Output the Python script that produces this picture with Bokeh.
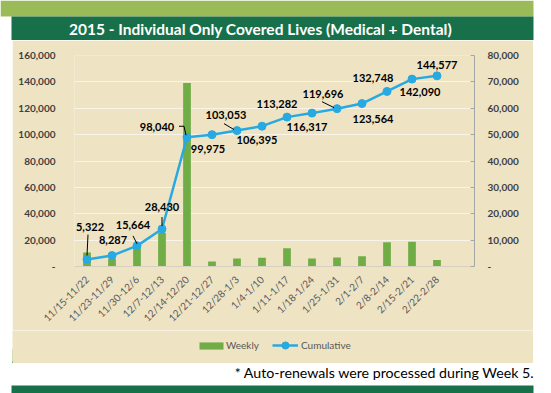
from bokeh.plotting import figure
from bokeh.layouts import column, row
from bokeh.models import (Range1d, LinearAxis, FixedTicker, NumeralTickFormatter, Legend,
                          LegendItem, ColumnDataSource, Spacer)
from bokeh.core.properties import value
from bokeh.embed import file_html
from bokeh.resources import INLINE

# ---------------- data ----------------
weeks = ["11/15-11/22", "11/23-11/29", "11/30-12/6", "12/7-12/13", "12/14-12/20",
         "12/21-12/27", "12/28-1/3", "1/4-1/10", "1/11-1/17", "1/18-1/24",
         "1/25-1/31", "2/1-2/7", "2/8-2/14", "2/15-2/21", "2/22-2/28"]
weekly = [5322, 2965, 7377, 12766, 69610, 1935, 3078, 3342, 6887, 3035,
          3379, 3868, 9184, 9342, 2487]
cumulative = [5322, 8287, 15664, 28430, 98040, 99975, 103053, 106395, 113282, 116317,
              119696, 123564, 132748, 142090, 144577]
left_ticks = [0, 20000, 40000, 60000, 80000, 100000, 120000, 140000, 160000]
right_ticks = [0, 10000, 20000, 30000, 40000, 50000, 60000, 70000, 80000]

title_text = "2015 - Individual Only Covered Lives (Medical + Dental)"
footnote_text = "* Auto-renewals were processed during Week 5."

# ---------------- styles ----------------
TOTAL_W = 551
LIGHT_GREEN = "#9BBB59"
DARK_GREEN = "#18704A"
BEIGE = "#EEE3C3"
BAR_GREEN = "#70AD47"
BLUE = "#27A9E1"
FONT = "Lato"

# main chart figure geometry (beige panel)
W, H = 521, 290
BL, BR, BT, BB = 62, 59, 15, 63
FRAME_W, FRAME_H = W - BL - BR, H - BT - BB
LEG_H = 33

# label offsets (px) relative to each point
label_dx = [3, 1, -4, 0, -30, -4, -11, -5, -10, -5, -14, 11, -14, 8, 0]
label_dy = [-32, -16, -21, -22, -10, 14, -16, 14, -13, 14, -15, 15, -13, 13, -11]
leaders = {0: [(1, -25), (0, -4)], 2: [(-4, -10), (0, -2)], 3: [(0, -12), (0, -3)],
           4: [(-8, -11), (-3, -11), (-1, -2)], 6: [(-13, -7), (-3, -1)],
           10: [(-15, -7), (-3, -1)]}


def deco_fig(w, h, y_top, y_bottom, fill="white"):
    f = figure(width=w, height=h, output_backend="svg", toolbar_location=None,
               x_range=Range1d(0, w), y_range=Range1d(y_bottom, y_top),
               x_axis_location=None, y_axis_location=None, min_border=0,
               border_fill_color=fill, background_fill_color=fill,
               outline_line_color=None)
    f.grid.visible = False
    return f


# ---------------- header ----------------
head = deco_fig(TOTAL_W, 40, 0, 40)
head.quad(left=[0, 11], right=[533, 533], top=[0, 16], bottom=[16, 40],
          fill_color=[LIGHT_GREEN, DARK_GREEN], line_color=None)
head.text(x=[260], y=[28.5], text=[title_text], text_font=value(FONT),
          text_font_style="bold", text_font_size="15.5px", text_color="white",
          text_align="center", text_baseline="middle")

# ---------------- main chart ----------------
xpos = list(range(len(weeks)))
x_lo, x_hi = -0.5, 15.5
y_hi = left_ticks[-1]

p = figure(width=W, height=H, output_backend="svg", toolbar_location=None,
           x_range=Range1d(x_lo, x_hi), y_range=Range1d(0, y_hi),
           min_border_left=BL, min_border_right=BR, min_border_top=BT, min_border_bottom=BB,
           border_fill_color=BEIGE, background_fill_color=BEIGE, outline_line_color=None)
p.extra_y_ranges = {"weekly": Range1d(0, right_ticks[-1])}

p.xgrid.grid_line_color = None
p.ygrid.grid_line_color = "#F8F4EA"
p.ygrid.grid_line_width = 1
p.ygrid.ticker = FixedTicker(ticks=left_ticks)

ya = p.yaxis[0]
ya.ticker = FixedTicker(ticks=left_ticks)
ya.formatter = NumeralTickFormatter(format="0,0")
ya.major_label_overrides = {0: "-"}
ya.axis_line_color = None
ya.major_tick_line_color = None
ya.minor_tick_line_color = None
ya.major_label_standoff = 13
ya.major_label_text_font = FONT
ya.major_label_text_font_style = "bold"
ya.major_label_text_font_size = "10px"
ya.major_label_text_color = "#404040"

ra = LinearAxis(y_range_name="weekly", ticker=FixedTicker(ticks=right_ticks),
                formatter=NumeralTickFormatter(format="0,0"))
ra.major_label_overrides = {0: "-"}
ra.axis_line_color = "#A6A6A6"
ra.major_tick_line_color = "#A6A6A6"
ra.major_tick_in = 4
ra.major_tick_out = 0
ra.minor_tick_line_color = None
ra.major_label_standoff = 13
ra.major_label_text_font = FONT
ra.major_label_text_font_style = "bold"
ra.major_label_text_font_size = "10px"
ra.major_label_text_color = "#404040"
p.add_layout(ra, "right")

xa = p.xaxis[0]
xa.ticker = FixedTicker(ticks=xpos)
xa.major_label_overrides = {i: w for i, w in zip(xpos, weeks)}
xa.major_label_orientation = 0.785398
xa.axis_line_color = "#D6D0C0"
xa.major_tick_line_color = None
xa.minor_tick_line_color = None
xa.major_label_standoff = 5
xa.major_label_text_font = FONT
xa.major_label_text_font_size = "10px"
xa.major_label_text_color = "#595959"

src = ColumnDataSource(dict(x=xpos, weekly=weekly, cum=cumulative,
                            label=[f"{v:,}" for v in cumulative],
                            dx=label_dx, dy=label_dy))
bars = p.vbar(x="x", top="weekly", width=0.31, source=src, y_range_name="weekly",
              fill_color=BAR_GREEN, line_color=None)
line = p.line(x="x", y="cum", source=src, line_color=BLUE, line_width=2.5)
pts = p.scatter(x="x", y="cum", source=src, size=8, fill_color=BLUE, line_color=BLUE)

ux = (x_hi - x_lo) / FRAME_W
uy = y_hi / FRAME_H
lx, ly = [], []
for i, offs in leaders.items():
    lx.append([xpos[i] + dx * ux for dx, dy in offs])
    ly.append([cumulative[i] - dy * uy for dx, dy in offs])
p.multi_line(xs=lx, ys=ly, line_color="black", line_width=1)

p.text(x="x", y="cum", text="label", x_offset="dx", y_offset="dy", source=src,
       text_font=value(FONT), text_font_style="bold", text_font_size="11px",
       text_color="black", text_align="center", text_baseline="middle")

# ---------------- legend strip (beige) ----------------
# same series drawn against ranges that keep them out of view; only the legend shows
leg = figure(width=W, height=LEG_H, output_backend="svg", toolbar_location=None,
             x_range=Range1d(1000, 1001), y_range=Range1d(0, y_hi),
             x_axis_location=None, y_axis_location=None, min_border=0,
             border_fill_color=BEIGE, background_fill_color=BEIGE, outline_line_color=None)
leg.grid.visible = False
lbar = leg.vbar(x="x", top="weekly", width=0.31, source=src, fill_color=BAR_GREEN,
                line_color=None)
lline = leg.line(x="x", y="cum", source=src, line_color=BLUE, line_width=2.5)
lpts = leg.scatter(x="x", y="cum", source=src, size=8, fill_color=BLUE, line_color=BLUE)

common = dict(orientation="horizontal", background_fill_alpha=0, border_line_color=None,
              padding=0, margin=0, label_text_font=FONT, label_text_font_size="10px",
              label_text_color="#595959")
leg1 = Legend(items=[LegendItem(label="Weekly", renderers=[lbar])], location=(184, 12),
              glyph_width=30, glyph_height=9, label_height=12, label_standoff=0, **common)
leg2 = Legend(items=[LegendItem(label="Cumulative", renderers=[lline, lpts])],
              location=(260, 9), glyph_width=26, glyph_height=18, label_height=12,
              label_standoff=3, **common)
leg.add_layout(leg1)
leg.add_layout(leg2)

# ---------------- footer ----------------
foot = deco_fig(TOTAL_W, 30, 363, 393)
foot.quad(left=[11], right=[533], top=[385], bottom=[393], fill_color=[DARK_GREEN],
          line_color=None)
foot.text(x=[534], y=[372], text=[footnote_text], text_font=value(FONT),
          text_font_size="14.2px", text_color="black", text_align="right",
          text_baseline="middle")

layout = column(head,
                row(Spacer(width=12, height=H), p, Spacer(width=18, height=H)),
                row(Spacer(width=12, height=LEG_H), leg, Spacer(width=18, height=LEG_H)),
                foot)

open("out.html", "w").write(file_html(layout, INLINE))
